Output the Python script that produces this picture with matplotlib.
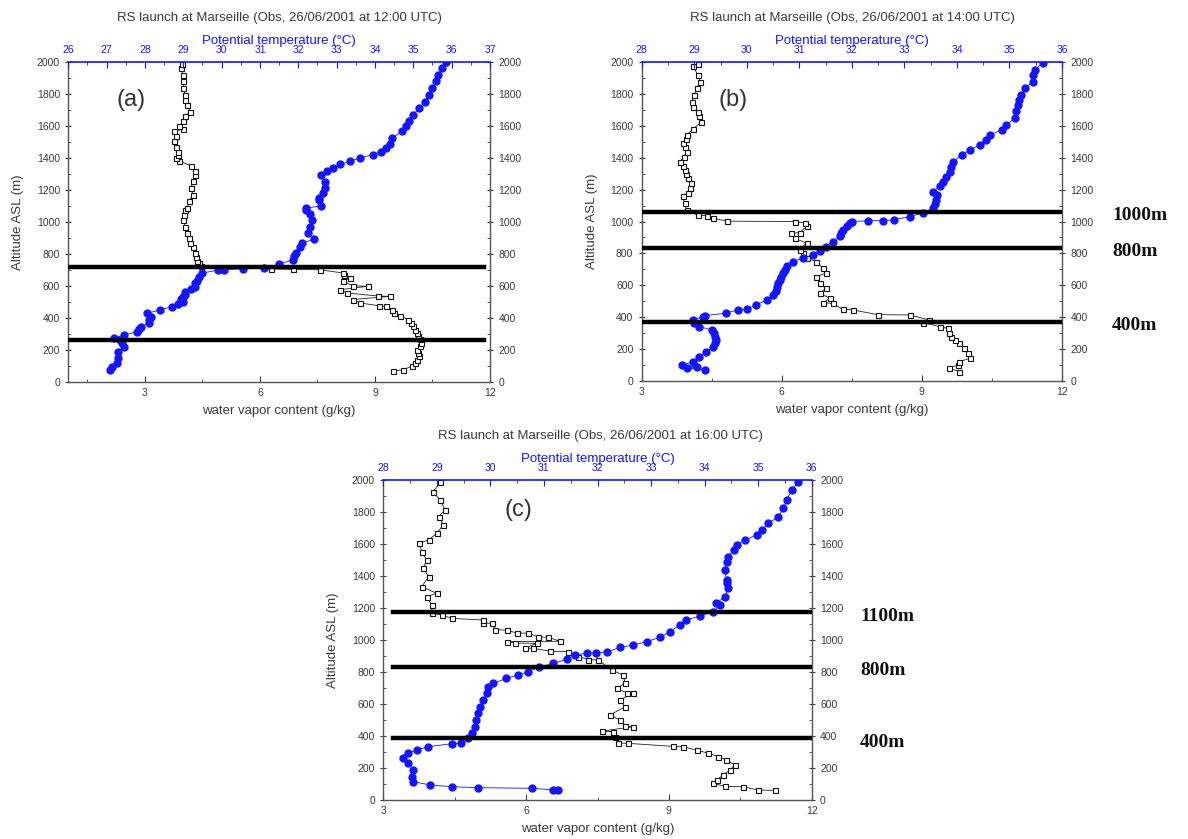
import matplotlib
matplotlib.use("Agg")
import matplotlib.pyplot as plt
from matplotlib.ticker import MultipleLocator

# ---------------- data ----------------
# Panel (a) 12:00 UTC
a_theta_alt = [73, 90, 117, 150, 188, 219, 240, 258, 273, 292, 313, 330, 344, 367, 385, 407, 428,
               449, 470, 485, 500, 515, 530, 545, 560, 580, 595, 615, 630, 657, 680, 698, 700, 706,
               710, 735, 762, 785, 805, 840, 868, 890, 930, 970, 1012, 1050, 1075, 1086, 1100, 1138,
               1148, 1180, 1211, 1250, 1294, 1320, 1336, 1360, 1378, 1400, 1420, 1440, 1461, 1490,
               1524, 1566, 1600, 1628, 1670, 1712, 1750, 1795, 1840, 1879, 1920, 1962, 2000]
a_theta = [27.1, 27.15, 27.27, 27.3, 27.3, 27.45, 27.4, 27.35, 27.2, 27.45, 27.8, 27.85, 27.9, 28.1,
           28.1, 28.15, 28.05, 28.4, 28.7, 28.85, 29.0, 28.95, 29.0, 29.05, 29.05, 29.2, 29.3, 29.3,
           29.35, 29.4, 29.5, 29.9, 30.05, 30.55, 31.1, 31.5, 31.85, 31.9, 31.95, 32.05, 32.1, 32.4,
           32.25, 32.3, 32.35, 32.3, 32.2, 32.2, 32.6, 32.55, 32.55, 32.65, 32.7, 32.7, 32.6, 32.75,
           32.9, 33.1, 33.35, 33.6, 33.95, 34.15, 34.3, 34.4, 34.45, 34.7, 34.8, 34.9, 35.0, 35.15,
           35.3, 35.4, 35.5, 35.6, 35.65, 35.75, 35.85]
a_q_alt = [65, 76, 97, 118, 138, 160, 180, 200, 222, 243, 264, 285, 305, 326, 347, 368, 389, 410, 430,
           450, 472, 475, 493, 514, 534, 536, 555, 576, 597, 600, 628, 649, 665, 680, 700, 703, 705,
           722, 740, 753, 780, 805, 840, 868, 900, 930, 970, 1012, 1040, 1075, 1086, 1130, 1169, 1210,
           1253, 1290, 1315, 1350, 1380, 1399, 1420, 1440, 1470, 1503, 1540, 1566, 1580, 1600, 1628,
           1660, 1690, 1730, 1760, 1795, 1840, 1879, 1920, 1960, 1990]
a_q = [9.47, 9.73, 9.97, 10.05, 10.1, 10.15, 10.12, 10.1, 10.18, 10.2, 10.18, 10.12, 10.1, 10.05, 10.0,
       9.95, 9.87, 9.66, 9.5, 9.45, 9.3, 9.1, 8.6, 8.43, 9.4, 9.08, 8.27, 8.1, 8.82, 8.43, 8.17, 8.35,
       8.2, 8.17, 7.56, 6.86, 6.3, 4.45, 4.4, 4.35, 4.32, 4.3, 4.25, 4.18, 4.15, 4.1, 4.05, 4.0, 4.02,
       4.05, 4.1, 4.15, 4.25, 4.2, 4.25, 4.3, 4.3, 4.2, 3.9, 3.8, 3.85, 3.85, 3.8, 3.75, 3.8, 3.75, 4.0,
       3.9, 4.0, 4.05, 4.18, 4.1, 4.05, 4.05, 4.0, 4.0, 3.98, 3.95, 3.97]

# Panel (b) 14:00 UTC
b_theta_alt = [69, 80, 85, 100, 121, 153, 184, 215, 236, 257, 278, 300, 320, 341, 362, 383, 404, 410,
               425, 446, 450, 477, 508, 540, 566, 592, 613, 634, 655, 676, 697, 718, 749, 770, 791,
               812, 843, 874, 906, 927, 948, 969, 989, 1000, 1004, 1006, 1010, 1031, 1052, 1084, 1110,
               1136, 1165, 1186, 1220, 1249, 1280, 1312, 1340, 1375, 1416, 1450, 1479, 1510, 1542,
               1575, 1605, 1647, 1690, 1730, 1760, 1793, 1835, 1877, 1920, 1950, 1993]
b_theta = [29.2, 28.86, 29.05, 28.76, 28.98, 29.1, 29.23, 29.36, 29.4, 29.42, 29.4, 29.38, 29.33, 29.1,
           29.0, 28.98, 29.17, 29.2, 29.6, 29.83, 30.0, 30.18, 30.38, 30.5, 30.55, 30.57, 30.6, 30.63,
           30.66, 30.69, 30.72, 30.76, 30.88, 31.07, 31.26, 31.4, 31.5, 31.64, 31.77, 31.8, 31.83,
           31.9, 31.96, 32.0, 32.3, 32.6, 32.8, 33.1, 33.35, 33.55, 33.58, 33.6, 33.62, 33.54, 33.67,
           33.73, 33.8, 33.86, 33.88, 33.92, 34.1, 34.25, 34.43, 34.55, 34.63, 34.85, 34.94, 35.1,
           35.12, 35.16, 35.18, 35.22, 35.3, 35.44, 35.45, 35.48, 35.63]
b_q_alt = [59, 80, 100, 121, 142, 174, 205, 236, 257, 278, 299, 330, 341, 366, 383, 414, 416, 446,
           450, 487, 490, 519, 550, 582, 613, 655, 676, 707, 749, 770, 801, 822, 864, 895, 927, 930,
           969, 990, 1000, 1002, 1021, 1036, 1040, 1073, 1115, 1157, 1178, 1207, 1240, 1270, 1300,
           1323, 1350, 1375, 1405, 1437, 1465, 1490, 1520, 1542, 1580, 1626, 1660, 1688, 1720, 1751,
           1790, 1835, 1877, 1920, 1972, 1985]
b_q = [9.8, 9.59, 9.77, 9.8, 10.02, 9.98, 9.91, 9.8, 9.7, 9.63, 9.59, 9.55, 9.38, 9.02, 9.16, 8.74,
       8.05, 7.52, 7.3, 7.1, 6.88, 7.03, 6.81, 6.95, 6.81, 6.74, 6.95, 6.88, 6.74, 6.53, 6.45, 6.38,
       6.53, 6.28, 6.2, 6.38, 6.53, 6.49, 6.28, 4.82, 4.53, 4.39, 4.2, 3.96, 3.92, 3.88, 3.99, 4.03,
       4.05, 4.0, 3.95, 3.93, 3.88, 3.82, 3.9, 3.96, 3.92, 3.88, 3.95, 3.96, 4.1, 4.28, 4.22, 4.2,
       4.1, 4.07, 4.12, 4.18, 4.25, 4.2, 4.1, 4.2]

# Panel (c) 16:00 UTC
c_theta_alt = [62, 64, 73, 77, 83, 94, 115, 146, 187, 229, 260, 292, 312, 333, 352, 356, 385, 417, 458,
               500, 542, 583, 625, 667, 708, 729, 760, 781, 802, 829, 854, 879, 906, 918, 921, 924, 954,
               969, 990, 1017, 1052, 1094, 1125, 1150, 1177, 1219, 1229, 1271, 1323, 1354, 1375, 1437,
               1490, 1521, 1562, 1594, 1625, 1656, 1687, 1729, 1771, 1823, 1875, 1937, 1989]
c_theta = [31.27, 31.17, 30.77, 29.77, 29.28, 28.87, 28.56, 28.53, 28.56, 28.47, 28.37, 28.47, 28.62,
           28.84, 29.28, 29.46, 29.59, 29.65, 29.71, 29.74, 29.77, 29.8, 29.87, 29.93, 29.96, 30.05,
           30.3, 30.52, 30.71, 30.9, 31.17, 31.43, 31.58, 31.8, 31.98, 32.17, 32.42, 32.67, 32.92,
           33.17, 33.35, 33.54, 33.66, 33.91, 34.16, 34.29, 34.22, 34.38, 34.44, 34.41, 34.41, 34.38,
           34.41, 34.44, 34.54, 34.6, 34.75, 34.97, 35.07, 35.19, 35.38, 35.47, 35.53, 35.63, 35.75]
c_q_alt = [60, 62, 83, 85, 104, 125, 156, 187, 219, 250, 271, 292, 312, 333, 335, 354, 356, 396, 427,
           430, 458, 460, 500, 531, 583, 625, 667, 670, 698, 729, 781, 812, 875, 878, 896, 927, 930,
           948, 950, 979, 981, 990, 992, 1017, 1019, 1042, 1044, 1062, 1064, 1104, 1106, 1125, 1135,
           1156, 1167, 1219, 1271, 1292, 1333, 1396, 1448, 1500, 1552, 1604, 1625, 1666, 1719, 1771,
           1812, 1875, 1927, 1989]
c_q = [11.23, 10.88, 10.56, 10.18, 9.93, 10.0, 10.14, 10.28, 10.39, 10.21, 10.04, 9.83, 9.58, 9.3,
       9.09, 8.15, 7.94, 7.87, 7.83, 7.59, 8.25, 8.08, 7.97, 7.76, 8.08, 7.97, 8.25, 8.11, 7.9, 8.08,
       8.04, 7.8, 7.52, 7.31, 7.1, 6.89, 6.5, 6.15, 5.98, 6.22, 5.77, 5.59, 6.71, 6.47, 6.26, 6.05,
       5.8, 5.59, 5.35, 5.28, 5.1, 5.1, 4.44, 4.23, 4.02, 4.02, 3.91, 4.12, 3.81, 3.95, 3.84, 3.91,
       3.81, 3.74, 3.95, 4.12, 4.26, 4.16, 4.3, 4.19, 4.05, 4.2]

titles = ["RS launch at Marseille (Obs, 26/06/2001 at 12:00 UTC)",
          "RS launch at Marseille (Obs, 26/06/2001 at 14:00 UTC)",
          "RS launch at Marseille (Obs, 26/06/2001 at 16:00 UTC)"]
panel_tags = ["(a)", "(b)", "(c)"]
q_limits = [(1, 12), (3, 12), (3, 12)]
theta_limits = [(26, 37), (28, 36), (28, 36)]
layer_alts = [[715, 262], [1061, 834, 372], [1172, 834, 385]]
layer_labels = [[], ["1000m", "800m", "400m"], ["1100m", "800m", "400m"]]

# ---------------- drawing ----------------
W, H = 1188, 839
fig = plt.figure(figsize=(W / 100, H / 100), dpi=100)
plt.rcParams['font.family'] = ['Liberation Sans', 'DejaVu Sans']

BLUE = '#1414ff'
GREY = '#3a3a3a'

# axes boxes in pixels: left, top, right, bottom
boxes = [(68.3, 62, 490, 381.7), (641.7, 62, 1062, 381), (383.3, 480, 811.7, 800)]
line_span = [(0.0, 0.985), (0.0, 1.0), (0.023, 0.995)]
label_x = [None, 1112, 860]
tag_pos = [(117, 100), (718, 100), (505, 510)]
title_pos = [(279, 18), (852, 18), (600, 436)]

series = [(a_q_alt, a_q, a_theta_alt, a_theta),
          (b_q_alt, b_q, b_theta_alt, b_theta),
          (c_q_alt, c_q, c_theta_alt, c_theta)]

for i in range(3):
    l, t, r, b = boxes[i]
    ax = fig.add_axes([l / W, 1 - b / H, (r - l) / W, (b - t) / H])
    qalt, qv, talt, tv = series[i]
    ax.plot(qv, qalt, '-', color='#222222', lw=0.6, marker='s', ms=3.6,
            mfc='white', mec='#111111', mew=0.8, zorder=3)
    ax.set_xlim(*q_limits[i])
    ax.set_ylim(0, 2000)
    ax.set_xticks([3, 6, 9, 12])
    ax.xaxis.set_minor_locator(MultipleLocator(1.5))
    ax.yaxis.set_major_locator(MultipleLocator(200))
    ax.yaxis.set_minor_locator(MultipleLocator(100))
    ax.tick_params(axis='both', which='both', colors=GREY, labelsize=7.5)
    ax.tick_params(axis='x', which='major', direction='in', length=4, top=False, pad=4.5)
    ax.tick_params(axis='x', which='minor', direction='in', length=2.5, top=False)
    ax.tick_params(axis='y', which='major', direction='inout', length=5, right=True, labelright=True)
    ax.tick_params(axis='y', which='minor', direction='in', length=2.5, right=True)
    for s in ['left', 'right', 'bottom']:
        ax.spines[s].set_color('#555555')
        ax.spines[s].set_linewidth(1.0)
    ax.spines['top'].set_visible(False)
    ax.set_xlabel("water vapor content (g/kg)", fontsize=9.5, color=GREY, labelpad=5)
    ax.set_ylabel("Altitude ASL (m)", fontsize=9.5, color=GREY, labelpad=9)

    ax2 = ax.twiny()
    ax2.plot(tv, talt, '-', color=BLUE, lw=0.6, marker='o', ms=5.0,
             mfc=BLUE, mec=BLUE, zorder=3)
    ax2.set_xlim(*theta_limits[i])
    ax2.set_ylim(0, 2000)
    ax2.xaxis.set_major_locator(MultipleLocator(1))
    ax2.xaxis.set_minor_locator(MultipleLocator(0.5))
    ax2.tick_params(axis='x', which='major', colors=BLUE, labelsize=7.5, direction='in', length=4, pad=5)
    ax2.tick_params(axis='x', which='minor', colors=BLUE, direction='in', length=2.5)
    ax2.spines['top'].set_color(BLUE)
    ax2.spines['top'].set_linewidth(1.2)
    for s in ['left', 'right', 'bottom']:
        ax2.spines[s].set_visible(False)
    ax2.set_xlabel("Potential temperature (°C)", fontsize=9.5, color=BLUE, labelpad=1)

    tx, ty = title_pos[i]
    fig.text(tx / W, 1 - ty / H, titles[i], fontsize=9.5, color=GREY, ha='center', va='center')

    x0, x1 = line_span[i]
    for alt in layer_alts[i]:
        ax2.axhline(alt, xmin=x0, xmax=x1, color='black', lw=3.2, zorder=5)

    tx, ty = tag_pos[i]
    fig.text(tx / W, 1 - ty / H, panel_tags[i], fontsize=17, color='#333333', va='center', ha='left')

    for alt, lab in zip(layer_alts[i], layer_labels[i]):
        ypix = b - (b - t) * alt / 2000.0
        fig.text(label_x[i] / W, 1 - (ypix + 4) / H, lab, fontsize=14, family='Liberation Serif',
                 weight='bold', color='#111111', va='center', ha='left')

fig.savefig("out.png", dpi=100)
